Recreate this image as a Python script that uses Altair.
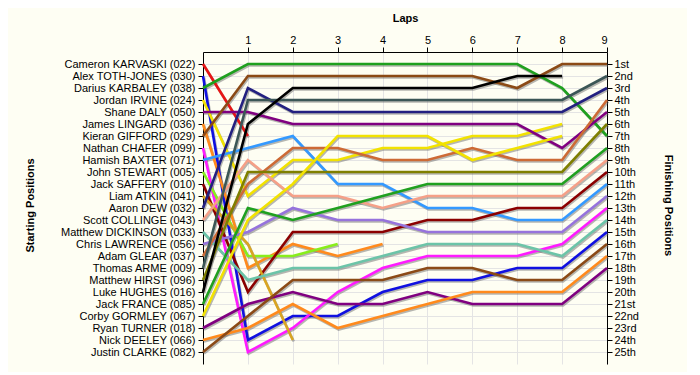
import json
import altair as alt
import pandas as pd

drivers = [
    "Cameron KARVASKI (022)", "Alex TOTH-JONES (030)", "Darius KARBALEY (038)",
    "Jordan IRVINE (024)", "Shane DALY (050)", "James LINGARD (036)",
    "Kieran GIFFORD (029)", "Nathan CHAFER (099)", "Hamish BAXTER (071)",
    "John STEWART (005)", "Jack SAFFERY (010)", "Liam ATKIN (041)",
    "Aaron DEW (032)", "Scott COLLINGE (043)", "Matthew DICKINSON (033)",
    "Chris LAWRENCE (056)", "Adam GLEAR (037)", "Thomas ARME (009)",
    "Matthew HIRST (096)", "Luke HUGHES (016)", "Jack FRANCE (085)",
    "Corby GORMLEY (067)", "Ryan TURNER (018)", "Nick DEELEY (066)",
    "Justin CLARKE (082)",
]

colors = [
    "#e81515", "#1010e0", "#1fa01f", "#f2e200", "#800080", "#ff8a1c",
    "#8b4a16", "#ff1aff", "#3399ff", "#88ee1a", "#8b0000", "#d9a521",
    "#232080", "#f5a088", "#6cc4a8", "#9673dc", "#cd6a35", "#3b5656",
    "#7f7f00", "#000000", "#1fa01f", "#f2e200", "#800080", "#ff8a1c",
    "#8b4a16",
]

# position at lap 0 (start), lap 1, lap 2, ...
p_karvaski = [1, 7]
p_toth_jones = [2, 24, 22, 22, 20, 19, 19, 18, 18, 15]
p_karbaley = [3, 1, 1, 1, 1, 1, 1, 1, 3, 7]
p_irvine = [4, 12, 9, 9, 8, 8, 7, 7, 6]
p_daly = [5, 5, 6, 6, 6, 6, 6, 6, 8, 5]
p_lingard = [6, 18, 16, 17, 16]
p_gifford = [7, 2, 2, 2, 2, 2, 2, 3, 1, 1]
p_chafer = [8, 25, 23, 20, 18, 17, 17, 17, 16, 13]
p_baxter = [9, 8, 7, 11, 11, 13, 13, 14, 14, 11]
p_stewart = [10, 17, 17, 16]
p_saffery = [11, 20, 15, 15, 15, 14, 14, 13, 13, 10]
p_atkin = [12, 16, 24]
p_dew = [13, 3, 5, 5, 5, 5, 5, 5, 5, 3]
p_collinge = [14, 9, 12, 12, 13, 12, 12, 12, 12, 9]
p_dickinson = [15, 19, 18, 18, 17, 16, 16, 16, 17, 14]
p_lawrence = [16, 15, 13, 14, 14, 15, 15, 15, 15, 12]
p_glear = [17, 11, 8, 8, 9, 9, 8, 9, 9, 4]
p_arme = [18, 4, 4, 4, 4, 4, 4, 4, 4, 2]
p_hirst = [19, 10, 10, 10, 10, 10, 10, 10, 10, 6]
p_hughes = [20, 6, 3, 3, 3, 3, 3, 2, 2]
p_france = [21, 13, 14, 13, 12, 11, 11, 11, 11, 8]
p_gormley = [22, 14, 11, 7, 7, 7, 9, 8, 7]
p_turner = [23, 21, 20, 21, 21, 20, 21, 21, 21, 18]
p_deeley = [24, 23, 21, 23, 22, 21, 20, 20, 20, 17]
p_clarke = [25, 22, 19, 19, 19, 18, 18, 19, 19, 16]

positions = [
    p_karvaski, p_toth_jones, p_karbaley, p_irvine, p_daly, p_lingard,
    p_gifford, p_chafer, p_baxter, p_stewart, p_saffery, p_atkin, p_dew,
    p_collinge, p_dickinson, p_lawrence, p_glear, p_arme, p_hirst, p_hughes,
    p_france, p_gormley, p_turner, p_deeley, p_clarke,
]

lap_ticks = [1, 2, 3, 4, 5, 6, 7, 8, 9]
finish_labels = ["1st", "2nd", "3rd"] + [f"{i}th" for i in range(4, 21)] + \
    ["21st", "22nd", "23rd", "24th", "25th"]

rows = []
for d, plist in zip(drivers, positions):
    for lap, p in enumerate(plist):
        rows.append({"driver": d, "lap": lap, "pos": p})
df = pd.DataFrame(rows)

FONT = "Liberation Sans"
W, H = 404, 312

xscale = alt.Scale(domain=[0, 9], nice=False, zero=False)
yscale = alt.Scale(domain=[0, 26], reverse=True, nice=False, zero=False)
cscale = alt.Scale(domain=drivers, range=colors)

name_expr = json.dumps(drivers) + "[datum.value - 1]"
fin_expr = json.dumps(finish_labels) + "[datum.value - 1]"

x_enc = alt.X("lap:Q", scale=xscale,
              axis=alt.Axis(orient="top", values=lap_ticks, title="Laps",
                            grid=True, gridColor="#e4e4e4", domainColor="black",
                            tickColor="black", tickSize=5, labelPadding=2,
                            labelFontSize=11, labelFont=FONT, labelColor="black",
                            titleFont=FONT, titleFontSize=11, titleFontWeight="bold",
                            titleX=202, titleY=-34, titleBaseline="middle"))

y_left = alt.Y("pos:Q", scale=yscale,
               axis=alt.Axis(orient="left", values=list(range(1, 26)),
                             labelExpr=name_expr, title="Starting Positions",
                             labelOverlap=False, labelBound=False,
                             grid=True, gridColor="#e4e4e4", domainColor="black",
                             tickColor="black", tickSize=5, labelPadding=3,
                             labelFontSize=11, labelFont=FONT, labelColor="black",
                             titleFont=FONT, titleFontSize=11, titleFontWeight="bold",
                             titleX=-173, titleY=153, titleAngle=270,
                             titleAlign="center", titleBaseline="middle"))

y_right = alt.Y("pos:Q", scale=yscale,
                axis=alt.Axis(orient="right", values=list(range(1, 26)),
                              labelExpr=fin_expr, title="Finishing Positions",
                              labelOverlap=False, labelBound=False,
                              grid=False, domainColor="black",
                              tickColor="black", tickSize=5, labelPadding=2,
                              labelFontSize=11, labelFont=FONT, labelColor="black",
                              titleFont=FONT, titleFontSize=11, titleFontWeight="bold",
                              titleX=60, titleY=153, titleAngle=90,
                              titleAlign="center", titleBaseline="middle"))

base = alt.Chart(df)

# drop shadow under each line; this layer carries the right-hand axis
shadow = base.mark_line(strokeWidth=2.6, color="#606060", opacity=0.45,
                        xOffset=1, yOffset=1.5).encode(
    x=x_enc, y=y_right, detail="driver:N")

# coloured lines; this layer carries the left-hand axis
lines = base.mark_line(strokeWidth=2.6).encode(
    x=alt.X("lap:Q", scale=xscale),
    y=y_left,
    color=alt.Color("driver:N", scale=cscale, legend=None),
    detail="driver:N",
)

chart = alt.layer(shadow, lines).resolve_scale(y="independent").properties(
    width=W, height=H,
    background="#fefef3",
    padding={"left": 195, "top": 44, "right": 80, "bottom": 8},
    autosize=alt.AutoSizeParams(type="none"),
).configure_view(stroke=None)

chart.save("out.html", embed_options={"renderer": "svg", "actions": False})
